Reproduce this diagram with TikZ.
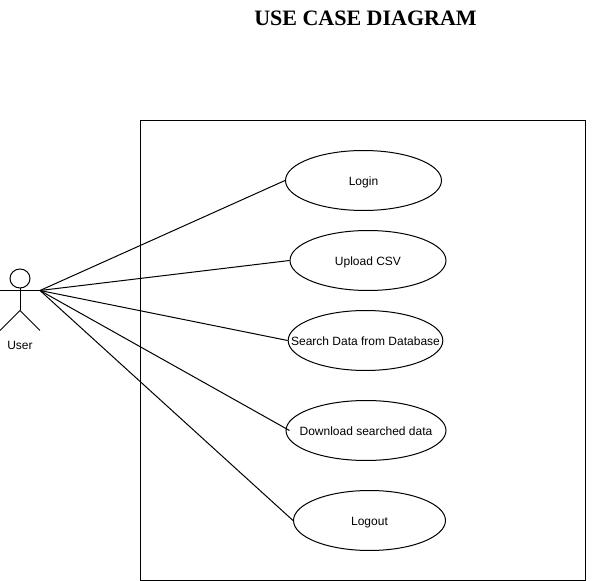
\documentclass[tikz,border=0pt]{standalone}
\usepackage{fontspec}
\setmainfont{Liberation Sans}
\newfontfamily\titlefont{Liberation Serif}
\usetikzlibrary{shapes.geometric}
\newcommand{\uctext}[1]{\makebox[0pt]{\smash{\raisebox{-3.4pt}{#1}}}}
\tikzset{
  usecase/.style={draw,ellipse,inner sep=0pt,minimum height=45pt,font=\fontsize{9}{11}\selectfont},
  assoc/.style={line width=.75pt},
}
\begin{document}
\begin{tikzpicture}[x=.75pt,y=-.75pt,line width=.75pt]
  \useasboundingbox (0,0) rectangle (601,581);

  % title
  \node (title) at (365.5,18) {\titlefont\bfseries\fontsize{16.5}{19}\selectfont USE CASE DIAGRAM};

  % system box
  \draw (140.5,120.5) rectangle (585.5,580.5);

  % actor
  \draw (20,278.5) ellipse (10 and 9.5);
  \draw (20,288) -- (20,310.5);
  \draw (0,290.5) -- (40,290.5);
  \draw (0,330.5) -- (20,310.5) -- (40,330.5);
  \node[font=\fontsize{9}{11}\selectfont] (user) at (20,345) {User};
  \coordinate (hand) at (40,290.5);

  % use cases
  \node[usecase,minimum width=117pt] (login) at (363.5,180.5) {\uctext{Login}};
  \node[usecase,minimum width=117pt] (upload) at (368,260.5) {\uctext{Upload CSV}};
  \node[usecase,minimum width=116pt] (search) at (365.5,340.5) {\uctext{Search Data from Database}};
  \node[usecase,minimum width=120pt] (download) at (366,430.5) {\uctext{Download searched data}};
  \node[usecase,minimum width=114pt] (logout) at (369.5,520.5) {\uctext{Logout}};

  % associations
  \draw[assoc] (hand) -- (login.west);
  \draw[assoc] (hand) -- (upload.west);
  \draw[assoc] (hand) -- (search.west);
  \draw[assoc] (hand) -- ([xshift=3pt]download.west);
  \draw[assoc] (hand) -- (logout.west);
\end{tikzpicture}
\end{document}
